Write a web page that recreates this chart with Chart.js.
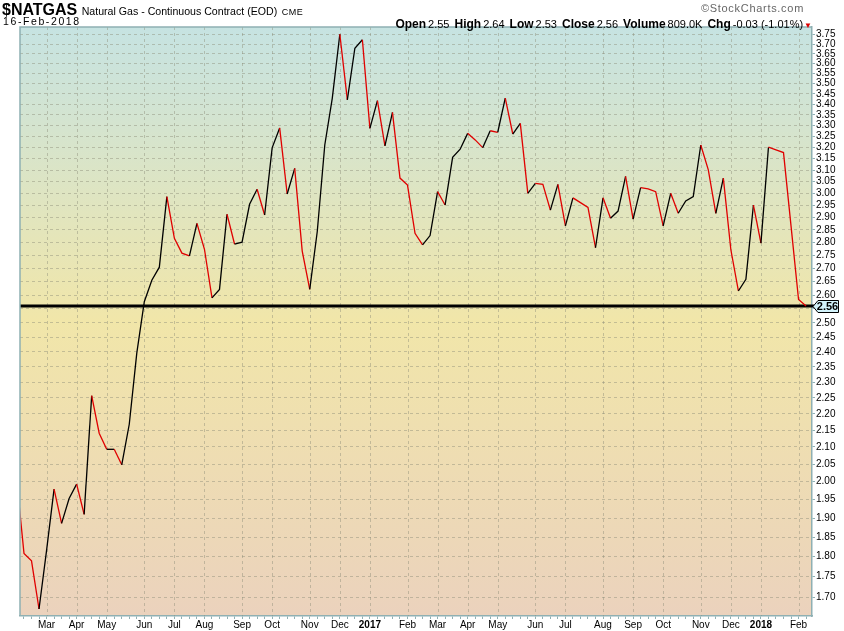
<!DOCTYPE html>
<html><head><meta charset="utf-8">
<script src="https://cdn.jsdelivr.net/npm/chart.js@4.4.1/dist/chart.umd.min.js"></script>
<style>
html,body{margin:0;padding:0;background:#fff;}
#wrap{position:relative;width:844px;height:631px;overflow:hidden;font-family:"Liberation Sans",Arial,sans-serif;}
#c{position:absolute;left:0;top:0;}
.hdr{position:absolute;white-space:nowrap;color:#000;line-height:1;}
.v{font-size:11px;margin-left:2px;margin-right:5px;}
.l{font-size:12px;font-weight:bold;}
</style></head><body>
<div id="wrap">
<canvas id="c" width="844" height="631"></canvas>
<div class="hdr" style="left:2px;top:2px;"><b style="font-size:16px">$NATGAS</b> <span style="font-size:10.6px">Natural Gas - Continuous Contract (EOD)</span> <span style="font-size:9px;letter-spacing:0.5px">CME</span></div>
<div class="hdr" style="left:3px;top:16px;font-size:10.5px;letter-spacing:1.6px">16-Feb-2018</div>
<div class="hdr" style="right:40px;top:3px;font-size:11px;color:#666;letter-spacing:0.7px">&copy;StockCharts.com</div>
<div class="hdr" style="right:32px;top:15px;"><span class="l">Open</span><span class="v">2.55</span><span class="l">High</span><span class="v">2.64</span><span class="l">Low</span><span class="v">2.53</span><span class="l">Close</span><span class="v">2.56</span><span class="l">Volume</span><span class="v">809.0K</span><span class="l">Chg</span><span class="v" style="margin-right:1px">-0.03 (-1.01%)</span><span style="color:#d00;font-size:8px">&#9660;</span></div>
</div>
<script>
// weekly closes, first value is the week before the visible window (clipped at left edge)
const closes = [
  2.011,
  1.808, 1.789, 1.672, 1.815, 1.979, 1.886, 1.953, 1.993, 1.910, 2.257,
  2.141, 2.093, 2.093, 2.048, 2.168, 2.396, 2.576, 2.655, 2.704, 2.986,
  2.816, 2.758, 2.747, 2.876, 2.773, 2.590, 2.621, 2.913, 2.793, 2.801,
  2.954, 3.017, 2.910, 3.198, 3.289, 2.997, 3.107, 2.766, 2.621, 2.843,
  3.211, 3.430, 3.752, 3.421, 3.679, 3.723, 3.287, 3.418, 3.207, 3.362,
  3.065, 3.035, 2.836, 2.790, 2.827, 3.007, 2.951, 3.156, 3.192, 3.264,
  3.234, 3.199, 3.276, 3.269, 3.430, 3.261, 3.310, 3.000, 3.042, 3.038,
  2.930, 3.038, 2.866, 2.981, 2.961, 2.941, 2.779, 2.981, 2.897, 2.926,
  3.072, 2.893, 3.024, 3.019, 3.007, 2.866, 3.000, 2.917, 2.968, 2.986,
  3.211, 3.101, 2.917, 3.065, 2.771, 2.615, 2.658, 2.951, 2.797, 3.201,
  3.189, 3.177, 2.866, 2.584, 2.560
];
const firstWeek = -1;
const monthWeeks  = [3, 7, 11, 16, 20, 24, 29, 33, 38, 42, 46, 51, 55, 59, 63, 68, 72, 77, 81, 85, 90, 94, 98, 103];
const monthLabels = ['Mar','Apr','May','Jun','Jul','Aug','Sep','Oct','Nov','Dec','2017','Feb','Mar','Apr','May','Jun','Jul','Aug','Sep','Oct','Nov','Dec','2018','Feb'];
const yTickValues = [];
for (let k = 170; k <= 375; k += 5) yTickValues.push(k / 100);
const lastClose = 2.56;
const xMin = -0.53, xMax = 104.79, yMin = 1.6556, yMax = 3.7906;

const points = closes.map((v, i) => ({x: i + firstWeek, y: v}));
const monthMap = {};
monthWeeks.forEach((w, i) => monthMap[w] = monthLabels[i]);
const frameColor = '#8fb0b3';
const gridColor = 'rgba(140,140,120,0.45)';
const FONT = '"Liberation Sans", Arial, sans-serif';

const bgPlugin = {
  id: 'bg',
  beforeDraw(chart) {
    const {ctx, chartArea: a} = chart;
    const g = ctx.createLinearGradient(0, a.top, 0, a.bottom);
    g.addColorStop(0, '#c6e3e2');
    g.addColorStop(0.5, '#f1e6a9');
    g.addColorStop(1, '#ebd2bd');
    ctx.save();
    ctx.fillStyle = g;
    ctx.fillRect(a.left, a.top, a.right - a.left, a.bottom - a.top);
    ctx.restore();
  },
  beforeDatasetsDraw(chart) {
    const {ctx, chartArea: a} = chart;
    const xs = chart.scales.x;
    ctx.save();
    ctx.strokeStyle = gridColor;
    ctx.lineWidth = 1;
    ctx.setLineDash([3, 3]);
    monthWeeks.forEach(w => {
      const x = Math.round(xs.getPixelForValue(w)) + 0.5;
      ctx.beginPath();
      ctx.moveTo(x, a.top);
      ctx.lineTo(x, a.bottom);
      ctx.stroke();
    });
    ctx.setLineDash([]);
    const y = chart.scales.y.getPixelForValue(lastClose);
    ctx.strokeStyle = '#000';
    ctx.lineWidth = 3;
    ctx.beginPath();
    ctx.moveTo(a.left, y);
    ctx.lineTo(a.right + 2, y);
    ctx.stroke();
    ctx.restore();
  },
  afterDraw(chart) {
    const {ctx, chartArea: a} = chart;
    ctx.save();
    ctx.strokeStyle = frameColor;
    ctx.lineWidth = 1.5;
    ctx.beginPath();
    ctx.moveTo(a.left, a.bottom);
    ctx.lineTo(a.left, a.top);
    ctx.lineTo(a.right, a.top);
    ctx.stroke();
    const y = Math.round(chart.scales.y.getPixelForValue(lastClose)) + 0.5;
    const x0 = a.right + 1;
    ctx.beginPath();
    ctx.moveTo(x0, y);
    ctx.lineTo(x0 + 5, y - 6);
    ctx.lineTo(838.5, y - 6);
    ctx.lineTo(838.5, y + 6);
    ctx.lineTo(x0 + 5, y + 6);
    ctx.closePath();
    ctx.fillStyle = '#d3f3fb';
    ctx.fill();
    ctx.strokeStyle = '#000';
    ctx.lineWidth = 1;
    ctx.stroke();
    ctx.fillStyle = '#000';
    ctx.font = 'bold 11px ' + FONT;
    ctx.textAlign = 'center';
    ctx.textBaseline = 'middle';
    ctx.fillText(lastClose.toFixed(2), 827.5, y + 0.5);
    ctx.restore();
  }
};

new Chart(document.getElementById('c'), {
  type: 'line',
  data: {
    datasets: [{
      data: points,
      borderWidth: 1.3,
      pointRadius: 0,
      tension: 0,
      fill: false,
      clip: 0,
      borderColor: '#000',
      segment: {
        borderColor: c => (c.p1.parsed.y < c.p0.parsed.y ? '#e00000' : '#000')
      }
    }]
  },
  options: {
    responsive: false,
    animation: false,
    devicePixelRatio: 1,
    layout: {padding: {left: 20, top: 27, right: 0, bottom: 0}},
    plugins: {legend: {display: false}, tooltip: {enabled: false}},
    scales: {
      x: {
        type: 'linear',
        min: xMin, max: xMax,
        afterBuildTicks: s => { s.ticks = closes.slice(1).map((v, i) => ({value: i})); },
        afterFit: s => { s.height = 15; },
        grid: {
          drawOnChartArea: false,
          tickColor: frameColor,
          tickLength: 3,
          lineWidth: 1
        },
        border: {color: frameColor, width: 1.5},
        ticks: {
          autoSkip: false, maxRotation: 0, minRotation: 0, padding: 0,
          color: '#000',
          font: c => ({family: FONT, size: 10, weight: (c.tick && /^\d{4}$/.test(monthMap[c.tick.value] || '')) ? 'bold' : 'normal'}),
          callback: v => monthMap[v] || ''
        }
      },
      y: {
        type: 'logarithmic',
        position: 'right',
        min: yMin, max: yMax,
        afterBuildTicks: s => { s.ticks = yTickValues.map(v => ({value: v})); },
        afterFit: s => { s.width = 32; },
        grid: {color: gridColor, tickColor: frameColor, tickLength: 3, lineWidth: 1},
        border: {color: frameColor, width: 1.5, dash: [3, 3]},
        ticks: {
          autoSkip: false, padding: 1, color: '#000',
          font: {family: FONT, size: 10},
          callback: v => (Math.abs(v - 2.55) < 1e-6 ? '' : Number(v).toFixed(2))
        }
      }
    }
  },
  plugins: [bgPlugin]
});
</script>
</body></html>
